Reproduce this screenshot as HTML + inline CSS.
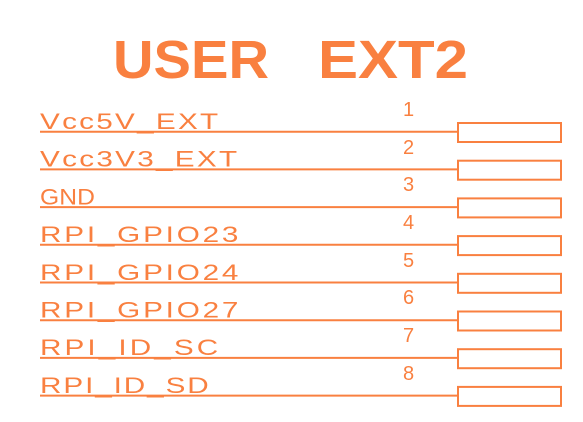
<!DOCTYPE html>
<html><head><meta charset="utf-8"><style>
html,body{margin:0;padding:0;background:#fff;}
svg{display:block;}
text{font-family:"Liberation Sans",sans-serif;fill:#F98040;}
</style></head><body>
<svg width="583" height="422" viewBox="0 0 583 422" xmlns="http://www.w3.org/2000/svg">
<text x="113" y="78" font-size="54" font-weight="bold" textLength="156" lengthAdjust="spacingAndGlyphs">USER</text>
<text x="318" y="78" font-size="54" font-weight="bold" textLength="150" lengthAdjust="spacingAndGlyphs">EXT2</text>
<g stroke="#F98040" stroke-width="2" fill="none">
<line x1="40" y1="131.7" x2="458" y2="131.7"/><rect x="458" y="123" width="103" height="19"/>
<line x1="40" y1="169.4" x2="458" y2="169.4"/><rect x="458" y="160.7" width="103" height="19"/>
<line x1="40" y1="207.1" x2="458" y2="207.1"/><rect x="458" y="198.4" width="103" height="19"/>
<line x1="40" y1="244.8" x2="458" y2="244.8"/><rect x="458" y="236.1" width="103" height="19"/>
<line x1="40" y1="282.5" x2="458" y2="282.5"/><rect x="458" y="273.8" width="103" height="19"/>
<line x1="40" y1="320.2" x2="458" y2="320.2"/><rect x="458" y="311.5" width="103" height="19"/>
<line x1="40" y1="357.9" x2="458" y2="357.9"/><rect x="458" y="349.2" width="103" height="19"/>
<line x1="40" y1="395.6" x2="458" y2="395.6"/><rect x="458" y="386.9" width="103" height="19"/>
</g>
<g font-size="22">
<text transform="translate(40,129) scale(1.35,1)" textLength="132" lengthAdjust="spacing">Vcc5V_EXT</text>
<text transform="translate(40,166.7) scale(1.35,1)" textLength="146" lengthAdjust="spacing">Vcc3V3_EXT</text>
<text transform="translate(40,204.4) scale(1.12,1)" textLength="49" lengthAdjust="spacing">GND</text>
<text transform="translate(40,242.1) scale(1.35,1)" textLength="147" lengthAdjust="spacing">RPI_GPIO23</text>
<text transform="translate(40,279.8) scale(1.35,1)" textLength="147" lengthAdjust="spacing">RPI_GPIO24</text>
<text transform="translate(40,317.5) scale(1.35,1)" textLength="147" lengthAdjust="spacing">RPI_GPIO27</text>
<text transform="translate(40,355.2) scale(1.35,1)" textLength="132" lengthAdjust="spacing">RPI_ID_SC</text>
<text transform="translate(40,392.9) scale(1.35,1)" textLength="125" lengthAdjust="spacing">RPI_ID_SD</text>
</g>
<g font-size="20">
<text x="403" y="116">1</text>
<text x="403" y="154">2</text>
<text x="403" y="191">3</text>
<text x="403" y="229">4</text>
<text x="403" y="267">5</text>
<text x="403" y="304">6</text>
<text x="403" y="342">7</text>
<text x="403" y="380">8</text>
</g>
</svg>
</body></html>
